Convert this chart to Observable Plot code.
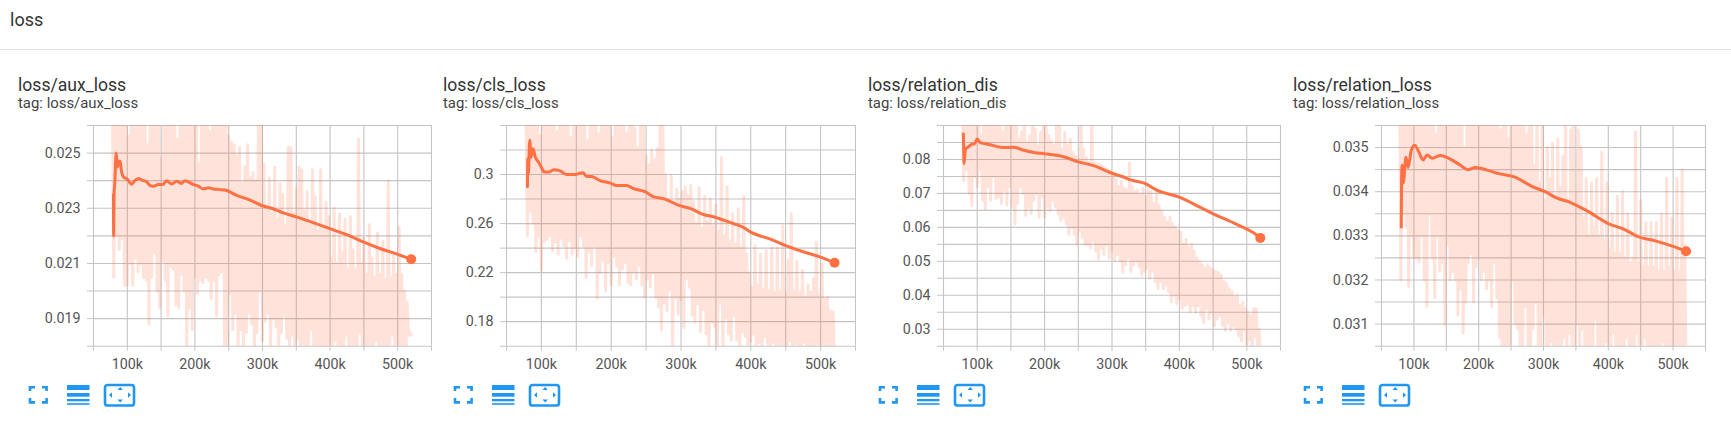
<!DOCTYPE html>
<html><head><meta charset="utf-8">
<script src="https://cdn.jsdelivr.net/npm/d3@7"></script>
<script src="https://cdn.jsdelivr.net/npm/@observablehq/plot@0.6"></script>
<style>
html,body{margin:0;padding:0;background:#fff;width:1731px;height:437px;overflow:hidden;font-family:Roboto,sans-serif}
#stage{position:relative;width:1731px;height:437px}
.abs{position:absolute;white-space:nowrap}
.head{left:10px;top:9px;font-size:18px;line-height:22px;color:#333}
.rule{left:0;top:49px;width:1731px;height:1px;background:#e0e0e0}
.title{top:75px;font-size:17.6px;line-height:20px;color:#333}
.tag{top:94px;font-size:14.9px;line-height:18px;color:#444}
.plot{top:120px}
.plot svg{display:block;overflow:visible}
</style></head><body><div id="stage"></div>
<script>
// Shared x axis
const xGrid = [50000,100000,150000,200000,250000,300000,350000,400000,450000,500000,550000];
const xLabelValues = [100000,200000,300000,400000,500000];
const xLabels = ["100k","200k","300k","400k","500k"];
const rawStart = 78000, rawStep = 4000;

// Panel headings
const names = ["loss/aux_loss","loss/cls_loss","loss/relation_dis","loss/relation_loss"];

// loss/aux_loss (values in 1e-3)
const auxHigh = [27,27,27,27,27,27,25.6,27,27,27, 27,27,27,25.3,27,27,27,27,24.8,27, 27,27,27,27,25.5,27,27,27,27,27, 27,27,24.6,27,27,27,25.8,27,27,27, 27,27,27,25.6,25.4,25.3,24.9,25.2,23.9,24.5, 25.3,24.1,24.3,24.0,26.5,27,24.6,23.0,24.1,22.8, 24.5,22.6,23.9,23.5,22.4,25.2,25.2,22.8,23.7,24.5, 24.4,22.9,23.6,22.4,24.4,23.4,22.2,24.4,22.3,23.2, 22.7,21.2,23.0,21.0,22.8,21.4,22.6,20.8,22.7,21.5, 20.8,25.5,21.0,21.9,20.6,22.4,21.2,20.5,22.1,20.6, 21.8,20.4,24.0,20.5,21.3,20.6,22.3,20.6,20.0,19.6, 18.5];
const auxLow = [20.5,22.0,21.5,21.9,20.2,20.2,21.0,20.2,21.2,20.7, 21.0,20.5,20.4,18.8,20.5,21.4,20.0,19.4,21.1,20.4, 19.1,20.9,20.8,19.5,19.4,20.6,20.0,17.5,19.4,18.6, 20.5,19.9,20.4,20.3,20.5,20.4,19.7,20.4,19.1,20.6, 20.7,17.5,17.5,19.9,18.6,19.2,17.9,18.6,17.5,18.5, 19.2,18.8,17.5,18.5,20.0,18.2,18.9,19.2,17.8,19.0, 18.7,17.5,18.5,19.1,18.3,17.5,18.4,17.5,18.3,17.5, 18.1,17.5,17.5,18.6,17.5,17.5,18.0,17.5,17.5,17.5, 17.5,17.5,18.2,17.5,17.5,17.5,18.4,17.5,17.5,17.5, 17.5,18.5,17.5,17.5,17.5,17.5,17.5,18.2,17.5,17.5, 17.5,17.5,17.5,18.4,17.5,17.5,17.5,17.5,17.5,18.4, 18.4];
const auxSmoothX = [79.5,79.8,80.5,81.5,83.5,85.5,87,89.4,91,93,96,99,103,106.6,111,116.5,122,129,134,138.7,146,153,158,165.8,173,180,185,198,205,212,220,227,236,244.6,261.8,281,298.8,313.5,330.8,350,372.7,400,429,449,473.6,500,520];
const auxSmoothY = [23.5,22.0,23.6,23.9,25.0,24.5,24.7,24.7,24.4,24.2,24.1,24.08,23.95,23.87,24.0,24.08,24.02,23.95,23.82,23.8,23.86,23.86,24.0,23.88,23.98,23.9,24.0,23.86,23.8,23.7,23.74,23.7,23.68,23.66,23.47,23.3,23.1,23.0,22.83,22.69,22.5,22.26,22.0,21.78,21.54,21.33,21.15];

// loss/cls_loss (values in 1e-2)
const clsHigh = [35,35,35,35,35,33.2,35,35,35,35, 35,33.5,35,35,35,35,33.0,35,35,35, 35,35,32.8,35,35,35,33.3,35,35,35, 35,33.0,35,35,35,35,33.4,35,35,33.8, 32.2,33.9,35,31.5,30.8,32.0,31.2,32.1,35,35, 30.0,27.9,29.9,27.8,28.8,28.0,28.6,29.0,28.3,29.1, 27.8,26.0,28.9,25.6,28.2,26.2,28.0,25.8,27.5,25.4, 31.4,25.0,29.0,24.6,26.8,24.3,27.2,24.0,28.2,23.5, 22.0,20.8,24.2,21.0,23.5,20.6,23.8,20.5,24.0,20.4, 24.0,20.5,25.8,20.3,23.0,26.8,20.5,22.9,20.4,22.2, 20.0,21.0,20.4,21.5,24.5,20.2,22.7,19.8,20.0,18.9, 18.8];
const clsLow = [25.0,27.0,26.0,23.7,25.0,22.2,24.5,24.7,25.0,23.8, 24.5,23.5,24.8,24.2,23.2,24.6,23.5,24.0,23.3,25.0, 24.2,21.6,23.7,22.6,24.2,19.9,22.0,23.0,20.5,22.8, 21.0,23.3,22.5,21.0,22.3,22.8,21.2,21.0,22.1,21.5, 22.6,21.0,20.0,21.5,20.8,22.0,20.0,19.2,17.3,19.5, 18.9,20.6,15,20.0,18.6,19.8,17.5,21.5,20.8,18.5, 18.0,19.5,17.2,19.0,17.0,15,18.0,17.6,15,19.5, 15,18.3,17.0,16.5,18.5,16.5,15,17.2,16.8,15, 16.4,17.0,15,16.3,15,16.8,16.2,15,16.3,15.5, 15,16.2,15,15,16.4,15,16.2,15,15,16.3, 15,16.1,15,15,16.2,15,15,15,15,15, 15];
const clsSmoothX = [80,80.6,81.2,83.3,85,88,91.4,96,100,103,106,110.5,117.6,127,132,136.7,148.6,155,159.5,165,172,184,198.6,208,222,232,248.6,260,277,296,315,329.5,350,370,389,400,427,450,475,500,520];
const clsSmoothY = [29.0,31.3,30.0,32.8,31.4,32.1,31.4,31.0,30.6,30.27,30.2,30.2,30.4,30.3,30.1,30.0,30.0,30.1,30.15,29.85,29.85,29.5,29.3,29.1,29.1,28.85,28.6,28.2,28.0,27.5,27.2,26.8,26.5,26.1,25.7,25.3,24.75,24.2,23.7,23.27,22.8];

// loss/relation_dis (values in 1e-3)
const disHigh = [95,95,95,95,95,95,95,87,95,95, 95,95,95,95,95,88,95,95,95,95, 95,86,88,95,85,87,95,89,84,88, 89.5,95,87,85.5,84,95,95,83,88,84, 86,82,81,80,95,83,80.5,79,95,79, 78.5,78.5,78,77.5,77,76.5,76,74,72,73.5, 71.5,71,79,72,70.5,71,69.5,71.5,69,71, 70.5,67,71.6,66.5,64.5,63,61.5,63,61,60, 59,58.5,55,56.5,54,55,53,51,50,49, 48,49,48,47.5,47,46.8,46,44,43.5,42, 41,39.4,40,37,38,36,35,34,36,36, 30];
const disLow = [73.8,77,70,66.4,75,72,77,68,65.4,72, 68,75,68.4,69,67,71,66.5,72,66,61, 67,72,70,63.5,66,64,68,70,63,69, 63,66,65,68,66,64,62,63,61,58, 60,58,55,59,57,55,55,54,56,53, 50.7,54,52,55,51,53,50,52,50,46.8, 49,51,47,49,50,48.3,46,47,48,45, 47,44,42,44,41.9,43,41,38,40,37.4, 39,36,37,37.5,35,37,35,37,34,32, 36,33,35,31,33,34,31,29.6,32,29.6, 31,30,28,26.6,30,24,27,24,28,24, 24];
const disSmoothX = [79.5,80,80.5,82.5,87,92,96,100,103,107,113,122,136.7,154,169,186,200,228,250,274,299,316,329,348,368,400,425,450,475,500,510,520];
const disSmoothY = [87.6,82,78.8,83,83.7,84.5,84.6,86,85.2,84.8,84.6,84.2,83.5,83.6,82.7,82,81.7,80.8,79.3,78.1,76,74.9,73.9,73,70.8,68.9,66.5,64,61.8,59.5,58.4,56.9];

// loss/relation_loss (values in 1e-3)
const relHigh = [36,36,36,36,36,36,36,35.8,36,36, 36,36,36,36,35.3,36,36,36,36,36, 36,36,36,36,36,35.0,36,36,36,36, 36,36,36,36,36,36,36,36,36,35.4, 36,36,35.2,36,36,36,35.6,36,36,35.3, 36,35.5,34.6,35.9,34.2,36,33.8,35.0,34.3,35.1, 33.9,35.2,34.1,34.8,36,33.8,35.4,36,34.0,35.4, 35.0,33.4,34.3,33.0,34.2,33.2,34.3,33.0,34.9,32.9, 34.2,32.7,33.5,32.6,33.9,32.6,34.0,32.5,33.5,32.4, 32.5,35.35,32.4,33.8,32.3,33.3,32.3,33.3,32.3,33.3, 32.2,33.5,32.2,34.3,32.3,33.4,32.2,34.3,32.2,34.5, 32.8];
const relLow = [32.0,33.5,33.2,31.85,33.0,32.5,32.5,32.4,33.0,32.0, 31.4,33.5,32.5,31.6,33.0,32.2,32.4,31.0,32.8,32.0, 32.2,32.0,31.2,31.8,30.8,31.5,32.4,32.6,31.5,32.3, 32.5,32.0,32.2,31.8,32.0,31.4,32.4,31.6,30.7,30, 30,30.4,30,32.0,31.0,30.9,30.3,30,31.4,30.5, 30,30.9,31.5,30.4,30,31.2,30.5,30,30.6,30, 30.4,30,30,30.7,30,30.8,30,30.2,31.0,30, 30.9,30,30,30.5,30,31.1,30,30,30,30.6, 30,30,30.8,30,30,30,30,30.7,30,30, 30,30.8,30,30,30.7,30,30,30,30,30, 30,30.6,30,30,30,30,30,30,30,30, 30];
const relSmoothX = [80.5,81,82,83.6,87.7,91,95.9,101,107.7,114,120.5,128,141,156,171.8,183,195,213,228,256,282,302.5,320,341,366.7,402.5,423,446,474,500,520];
const relSmoothY = [33.2,34.33,34.6,34.2,34.78,34.55,34.93,35.05,34.9,34.72,34.83,34.76,34.82,34.74,34.6,34.5,34.55,34.49,34.42,34.33,34.12,34.0,33.86,33.76,33.57,33.26,33.16,32.98,32.88,32.76,32.65];

// y axes
const yDomains = [[18,26],[16,34],[25,90],[30.5,35.5]];
const yGrids = [
  [18,19,20,21,22,23,24,25,26],
  [16,18,20,22,24,26,28,30,32,34],
  [25,30,35,40,45,50,55,60,65,70,75,80,85,90],
  [30.5,31,31.5,32,32.5,33,33.5,34,34.5,35,35.5]
];
const yLabelValues = [[19,21,23,25],[18,22,26,30],[30,40,50,60,70,80],[31,32,33,34,35]];
const yLabels = [
  ["0.019","0.021","0.023","0.025"],
  ["0.18","0.22","0.26","0.3"],
  ["0.03","0.04","0.05","0.06","0.07","0.08"],
  ["0.031","0.032","0.033","0.034","0.035"]
];
const highs = [auxHigh,clsHigh,disHigh,relHigh];
const lows = [auxLow,clsLow,disLow,relLow];
const smoothXs = [auxSmoothX,clsSmoothX,disSmoothX,relSmoothX];
const smoothYs = [auxSmoothY,clsSmoothY,disSmoothY,relSmoothY];
const gridLeft = [93,506,943,1381];
const gridWidth = [338,349,337,324];
const titleLeft = [18,443,868,1293];
const iconLeft = [29,454,879,1304];

const colour = "#ff7043", gridColour = "#c4c4c4", textColour = "#555";
const marginLeft = 80, marginRight = 16, marginTop = 5, marginBottom = 36, innerH = 220.7;
const stage = document.getElementById("stage");
function add(cls, text, left){
  const d = document.createElement("div");
  d.className = "abs " + cls; d.textContent = text;
  if (left !== undefined) d.style.left = left + "px";
  stage.appendChild(d); return d;
}
add("head","loss"); add("rule","");

names.forEach((name,p)=>{
  add("title",name,titleLeft[p]);
  add("tag","tag: "+name,titleLeft[p]);
  const raw = [];
  highs[p].forEach((h,i)=>{
    raw.push({x:rawStart+i*rawStep,y:h});
    raw.push({x:rawStart+i*rawStep+rawStep/2,y:lows[p][i]});
  });
  const smooth = smoothXs[p].map((x,i)=>({x:x*1000,y:smoothYs[p][i]}));
  const labelMap = new Map(yLabelValues[p].map((v,i)=>[v,yLabels[p][i]]));
  const xMap = new Map(xLabelValues.map((v,i)=>[v,xLabels[i]]));
  const chart = Plot.plot({
    width: marginLeft+gridWidth[p]+marginRight,
    height: marginTop+innerH+marginBottom,
    marginLeft, marginRight, marginTop, marginBottom,
    style:{background:"transparent",fontFamily:"Roboto,sans-serif",fontSize:"14.3px",overflow:"visible"},
    x:{domain:[50000,550000]},
    y:{domain:yDomains[p]},
    marks:[
      Plot.gridX(xGrid,{stroke:gridColour,strokeOpacity:1,strokeWidth:1.1}),
      Plot.gridY(yGrids[p],{stroke:gridColour,strokeOpacity:1,strokeWidth:1.1}),
      Plot.axisX({ticks:xGrid,tickSize:5,tickFormat:()=>"",stroke:gridColour,strokeOpacity:1,label:null}),
      Plot.axisX({ticks:xLabelValues,tickSize:0,tickPadding:13,tickFormat:d=>xMap.get(d),color:textColour,label:null}),
      Plot.axisY({ticks:yGrids[p],tickSize:6,tickFormat:()=>"",stroke:gridColour,strokeOpacity:1,label:null}),
      Plot.axisY({ticks:yLabelValues[p],tickSize:0,tickPadding:13,tickFormat:d=>labelMap.get(d),color:textColour,label:null}),
      Plot.line(raw,{x:"x",y:"y",stroke:colour,strokeOpacity:0.2,strokeWidth:3,clip:true}),
      Plot.line(smooth,{x:"x",y:"y",stroke:colour,strokeWidth:3,strokeLinejoin:"round",curve:"monotone-x",clip:true}),
      Plot.dot(smooth.slice(-1),{x:"x",y:"y",r:5,fill:colour,clip:false})
    ]
  });
  const holder = add("plot","",gridLeft[p]-marginLeft);
  holder.appendChild(chart);
  const icons = document.createElement("div");
  icons.className = "abs";
  icons.style.left = (iconLeft[p]-2)+"px"; icons.style.top = "382px";
  icons.innerHTML = `<svg width="110" height="26" viewBox="0 0 110 26" style="display:block">
    <g fill="none" stroke="#2196f3" stroke-width="2.6"><path d="M3 9V5.2H8M15 5.2H19.6V9M19.6 16V20.4H15M8 20.4H3V16"/></g>
    <g fill="#2196f3"><rect x="40" y="3" width="22.5" height="5"/><rect x="40" y="11" width="22.5" height="3.7"/><rect x="40" y="17" width="22.5" height="2.3"/><rect x="40" y="21.2" width="22.5" height="1.6"/>
    <path d="M90.5 8l2.7-3 2.7 3zM90.5 17.5l2.7 3 2.7-3zM85 10.2l-3 2.8 3 2.8zM101 10.2l3 2.8-3 2.8z"/></g>
    <rect x="78" y="3" width="29" height="20.5" rx="2.6" fill="none" stroke="#2196f3" stroke-width="2.6"/></svg>`;
  stage.appendChild(icons);
});
</script></body></html>
